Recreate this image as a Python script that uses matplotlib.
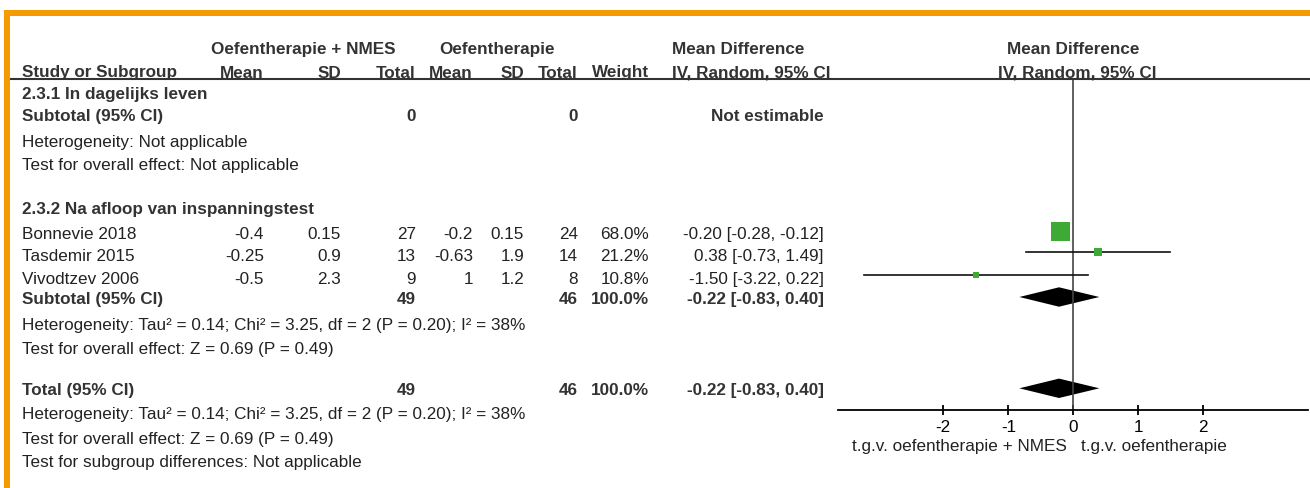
import matplotlib
matplotlib.use('Agg')
import matplotlib.pyplot as plt
from matplotlib.patches import Polygon

plt.rcParams['font.family'] = ['Liberation Sans', 'DejaVu Sans']

# study data
studies = ['Bonnevie 2018', 'Tasdemir 2015', 'Vivodtzev 2006']
mean_nmes = [-0.4, -0.25, -0.5]
sd_nmes = [0.15, 0.9, 2.3]
n_nmes = [27, 13, 9]
mean_oef = [-0.2, -0.63, 1]
sd_oef = [0.15, 1.9, 1.2]
n_oef = [24, 14, 8]
weights = [68.0, 21.2, 10.8]
md = [-0.20, 0.38, -1.50]
ci_lo = [-0.28, -0.73, -3.22]
ci_hi = [-0.12, 1.49, 0.22]

# pooled (subtotal 2.3.2 and total)
pooled_md = -0.22
pooled_lo = -0.83
pooled_hi = 0.40
total_nmes = 49
total_oef = 46

ticks = [-2, -1, 0, 1, 2]

W, H = 1310, 488
fig = plt.figure(figsize=(W / 100, H / 100), dpi=100)
bg = fig.add_axes([0, 0, 1, 1])
bg.set_xlim(0, W)
bg.set_ylim(H, 0)
bg.axis('off')

FS = 12.35
BOLD = '#333333'
REG = '#222222'
ORANGE = '#F59B00'
GREEN = '#3DAA35'

# orange frame (top and left)
bg.fill_between([4, W], 10, 16, color=ORANGE, lw=0)
bg.fill_between([4, 10], 10, H, color=ORANGE, lw=0)

def txt(x, y, s, ha='left', bold=False, **kw):
    bg.text(x, y, s, ha=ha, va='baseline', fontsize=FS,
            fontweight='bold' if bold else 'normal',
            color=BOLD if bold else REG, **kw)

# column right edges
X_LABEL = 22
X_M1, X_SD1, X_N1 = 264, 341, 416
X_M2, X_SD2, X_N2 = 473, 524, 578
X_W, X_CI = 649, 824

# header
txt(303, 54, 'Oefentherapie + NMES', ha='center', bold=True)
txt(497, 54, 'Oefentherapie', ha='center', bold=True)
txt(672, 54, 'Mean Difference', bold=True)
txt(1073, 54, 'Mean Difference', ha='center', bold=True)
txt(X_LABEL, 77.5, 'Study or Subgroup', bold=True)
for x, s in [(X_M1, 'Mean'), (X_SD1, 'SD'), (X_N1, 'Total'), (X_M2, 'Mean'),
             (X_SD2, 'SD'), (X_N2, 'Total'), (X_W, 'Weight')]:
    txt(x, 77.5, s, ha='right', bold=True)
txt(672, 77.5, 'IV, Random, 95% CI', bold=True)
txt(1077, 77.5, 'IV, Random, 95% CI', ha='center', bold=True)
bg.plot([10, W], [79.3, 79.3], color='#333333', lw=1.5, solid_capstyle='butt')

# subgroup 2.3.1
txt(X_LABEL, 99, '2.3.1 In dagelijks leven', bold=True)
txt(X_LABEL, 121, 'Subtotal (95% CI)', bold=True)
txt(X_N1, 121, '0', ha='right', bold=True)
txt(X_N2, 121, '0', ha='right', bold=True)
txt(X_CI, 121, 'Not estimable', ha='right', bold=True)
txt(X_LABEL, 147, 'Heterogeneity: Not applicable')
txt(X_LABEL, 170, 'Test for overall effect: Not applicable')

# subgroup 2.3.2
txt(X_LABEL, 214, '2.3.2 Na afloop van inspanningstest', bold=True)
study_base = [239, 261, 284]
for i, name in enumerate(studies):
    y = study_base[i]
    txt(X_LABEL, y, name)
    txt(X_M1, y, f'{mean_nmes[i]:g}', ha='right')
    txt(X_SD1, y, f'{sd_nmes[i]:g}', ha='right')
    txt(X_N1, y, f'{n_nmes[i]}', ha='right')
    txt(X_M2, y, f'{mean_oef[i]:g}', ha='right')
    txt(X_SD2, y, f'{sd_oef[i]:g}', ha='right')
    txt(X_N2, y, f'{n_oef[i]}', ha='right')
    txt(X_W, y, f'{weights[i]:.1f}%', ha='right')
    txt(X_CI, y, f'{md[i]:.2f} [{ci_lo[i]:.2f}, {ci_hi[i]:.2f}]', ha='right')

pooled_str = f'{pooled_md:.2f} [{pooled_lo:.2f}, {pooled_hi:.2f}]'
for y, label in [(304, 'Subtotal (95% CI)'), (395, 'Total (95% CI)')]:
    txt(X_LABEL, y, label, bold=True)
    txt(X_N1, y, f'{total_nmes}', ha='right', bold=True)
    txt(X_N2, y, f'{total_oef}', ha='right', bold=True)
    txt(X_W, y, f'{sum(weights):.1f}%', ha='right', bold=True)
    txt(X_CI, y, pooled_str, ha='right', bold=True)

het = 'Heterogeneity: Tau² = 0.14; Chi² = 3.25, df = 2 (P = 0.20); I² = 38%'
eff = 'Test for overall effect: Z = 0.69 (P = 0.49)'
txt(X_LABEL, 330, het)
txt(X_LABEL, 354, eff)
txt(X_LABEL, 419, het)
txt(X_LABEL, 444, eff)
txt(X_LABEL, 467, 'Test for subgroup differences: Not applicable')

# forest plot panel, y in pixel rows
AX_L, AX_R, AX_TOP, AX_BOT = 838, 1308, 80, 410.3
fx = fig.add_axes([AX_L / W, (H - AX_BOT) / H, (AX_R - AX_L) / W, (AX_BOT - AX_TOP) / H])
fx.patch.set_alpha(0)
fx.set_xlim(-3.62, 3.61)
fx.set_ylim(AX_BOT, AX_TOP)
for s in ['top', 'left', 'right']:
    fx.spines[s].set_visible(False)
fx.spines['bottom'].set_linewidth(1.3)
fx.set_yticks([])
fx.set_xticks(ticks)
fx.set_xticklabels([str(t) for t in ticks])
fx.tick_params(axis='x', direction='inout', length=6.5, width=1.3,
               labelsize=FS, pad=3.8, colors='black')
fx.axvline(0, color='#444444', lw=1.2)

row_y = [230.5, 252, 275]
for i in range(len(studies)):
    fx.plot([ci_lo[i], ci_hi[i]], [row_y[i], row_y[i]], color='#111111', lw=1.2)
    side = 4 + 15 * weights[i] / max(weights)
    fx.plot(md[i], row_y[i], marker='s', ms=side * 0.72, mew=0, color=GREEN)

for yc in [297, 388.3]:
    d = Polygon([(pooled_lo, yc), (pooled_md, yc - 9.7), (pooled_hi, yc), (pooled_md, yc + 9.7)],
                closed=True, color='black', lw=0)
    fx.add_patch(d)

txt(1067, 450.5, 't.g.v. oefentherapie + NMES', ha='right')
txt(1081, 450.5, 't.g.v. oefentherapie')

fig.savefig('out.png', dpi=100)
